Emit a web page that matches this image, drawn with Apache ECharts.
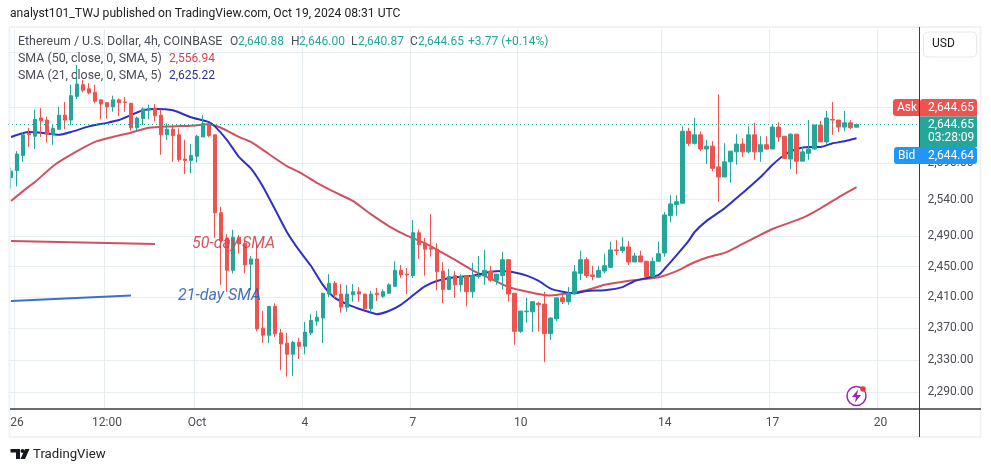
<!DOCTYPE html>
<html>
<head>
<meta charset="utf-8">
<title>ETH/USD 4h</title>
<script src="https://cdn.jsdelivr.net/npm/echarts@6/dist/echarts.min.js"></script>
<style>
  html, body { margin: 0; padding: 0; background: #fff; }
  #chart { width: 991px; height: 472px; }
</style>
</head>
<body>
<div id="chart"></div>
<script>
// 4h candles
const opens = [2570,2580,2601,2632,2628,2654,2651,2630,2638,2658,2651,2685,2702,2696,2691,2680,2676,2670,2680,2677,
  2675,2640,2653,2665,2668,2658,2630,2638,2630,2596,2594,2600,2627,2646,2630,2522,2488,2445,2489,2481,
  2453,2460,2370,2361,2398,2364,2351,2337,2352,2347,2364,2379,2383,2414,2428,2414,2397,2413,2417,2414,
  2395,2415,2411,2415,2424,2445,2440,2438,2495,2481,2475,2473,2444,2420,2438,2426,2438,2417,2437,2438,
  2444,2432,2438,2459,2415,2366,2391,2391,2402,2401,2363,2382,2409,2404,2415,2441,2459,2439,2436,2444,
  2449,2472,2471,2476,2456,2464,2457,2437,2457,2468,2518,2533,2535,2635,2618,2630,2610,2614,2585,2571,
  2592,2606,2617,2606,2630,2606,2616,2610,2641,2628,2596,2631,2593,2604,2610,2644,2620,2652,2651,2641,
  2647,2640.88];
const closes = [2579,2603,2630,2630,2652,2650,2631,2639,2658,2651,2686,2703,2694,2690,2678,2674,2670,2680,2676,2676,
  2640,2654,2667,2667,2657,2630,2638,2629,2595,2594,2601,2628,2646,2629,2522,2484,2445,2489,2480,2452,
  2460,2369,2361,2398,2363,2350,2337,2352,2347,2365,2380,2384,2415,2428,2413,2397,2414,2417,2414,2395,
  2414,2413,2417,2426,2445,2439,2439,2495,2479,2473,2473,2443,2420,2437,2426,2437,2417,2438,2438,2445,
  2432,2440,2459,2414,2366,2392,2392,2404,2400,2363,2383,2409,2404,2415,2443,2459,2438,2437,2445,2451,
  2472,2471,2476,2456,2464,2456,2437,2457,2467,2519,2534,2537,2635,2618,2630,2610,2614,2583,2571,2592,
  2607,2617,2606,2630,2606,2616,2610,2641,2627,2597,2631,2593,2606,2610,2644,2620,2654,2651,2641,2647,
  2640,2644.65];
const lows = [2555,2558,2592,2613,2610,2627,2619,2616,2637,2638,2644,2681,2691,2688,2675,2652,2653,2663,2657,2663,
  2636,2635,2644,2652,2649,2602,2623,2592,2592,2575,2576,2591,2627,2627,2488,2426,2417,2441,2467,2441,
  2419,2366,2351,2351,2359,2317,2309,2310,2331,2337,2361,2373,2351,2410,2408,2390,2391,2404,2404,2393,
  2390,2405,2409,2415,2424,2435,2414,2435,2460,2438,2463,2419,2402,2419,2409,2417,2398,2409,2434,2426,
  2430,2426,2420,2404,2349,2364,2377,2365,2366,2327,2355,2379,2401,2400,2413,2432,2435,2432,2436,2441,
  2448,2465,2468,2452,2456,2456,2436,2436,2456,2463,2509,2518,2534,2614,2616,2607,2589,2579,2537,2571,
  2563,2588,2599,2604,2595,2592,2609,2610,2620,2596,2582,2575,2593,2595,2609,2620,2616,2630,2634,2635,
  2638,2640.87];
const highs = [2584,2607,2634,2640,2666,2668,2656,2645,2670,2677,2702,2731,2709,2704,2702,2680,2676,2686,2682,2684,
  2676,2656,2669,2673,2674,2666,2646,2644,2639,2623,2617,2630,2658,2646,2630,2530,2493,2499,2492,2485,
  2464,2481,2392,2398,2402,2369,2364,2354,2358,2378,2388,2392,2415,2440,2431,2427,2426,2427,2423,2414,
  2418,2422,2420,2428,2457,2452,2448,2512,2499,2488,2520,2481,2456,2447,2444,2440,2438,2455,2464,2472,
  2451,2440,2469,2460,2415,2392,2409,2404,2404,2417,2384,2409,2415,2423,2452,2471,2462,2451,2451,2467,
  2483,2485,2489,2484,2468,2471,2457,2462,2483,2523,2546,2546,2642,2640,2654,2635,2623,2621,2688,2618,
  2607,2631,2625,2642,2647,2628,2628,2645,2648,2628,2632,2631,2613,2651,2644,2650,2664,2677,2651,2664,
  2651,2646.00];

// moving averages as [candle index, price]
const sma21Points = [[0,2627],[3,2634],[5,2633],[8,2630],[10,2634],[13,2642],[16,2647],[18,2651],[20,2658],[22,2665],
  [24,2667],[27,2665],[30,2655],[33,2648],[34,2642],[36,2623],[38,2599],[40,2583],[42,2558],[44,2527],
  [46,2496],[48,2472],[50,2451],[52,2426],[54,2409],[56,2401],[58,2395],[60,2390],[61,2388],[63,2392],
  [65,2400],[67,2412],[69,2424],[71,2431],[74,2436],[77,2438],[80,2443],[82,2444],[84,2442],[86,2438],
  [88,2431],[90,2421],[92,2417],[94,2415],[96,2418],[99,2419],[102,2423],[104,2431],[106,2435],[108,2439],
  [109,2447],[111,2465],[113,2484],[114,2496],[116,2511],[119,2528],[122,2549],[125,2571],[127,2588],[129,2602],
  [131,2610],[133,2613],[135,2613],[137,2618],[139,2621],[141,2625.22]];
const sma50Points = [[0,2538],[3,2558],[4,2564],[7,2586],[10,2602],[14,2620],[17,2627],[20,2633],[23,2640],[27,2642],
  [30,2643],[33,2645],[35,2640],[38,2627],[40,2620],[43,2603],[46,2586],[48,2578],[51,2563],[54,2550],
  [57,2538],[60,2520],[63,2504],[66,2491],[69,2481],[72,2468],[74,2459],[77,2445],[80,2434],[83,2423],
  [85,2419],[88,2414],[90,2412],[93,2415],[96,2419],[99,2426],[102,2430],[105,2433],[108,2436],[111,2444],
  [113,2452],[115,2459],[117,2464],[119,2468],[122,2480],[127,2500],[132,2515],[135,2528],[138,2543],[141,2556.94]];
// the two hand drawn legend strokes
const note50Points = [[0,2484],[24,2480]];
const note21Points = [[0,2405],[20,2412]];

const priceTicks = [2290, 2330, 2370, 2410, 2450, 2490, 2540, 2590, 2670, 2750];
const lastPrice = 2644.65;
const dateLabels = ['26', '12:00', 'Oct', '4', '7', '10', '14', '17', '20'];
const dateIndexes = [1, 16, 31, 49, 67, 85, 109, 127, 145];
const slotCount = 152;

const GREEN = '#26a69a';
const RED = '#ef5350';
const BLUE_LINE = '#3030c4';
const RED_LINE = '#d1505f';
const GRID = '#e6eef1';
const TEXT = '#4a4d55';
const FONT = 'Roboto, sans-serif';

const categories = [];
for (let i = 0; i < slotCount; i++) {
  const pos = dateIndexes.indexOf(i);
  categories.push(pos >= 0 ? dateLabels[pos] : 'c' + i);
}
const isDateSlot = index => dateIndexes.indexOf(index) >= 0;
const candles = opens.map((o, i) => [o, closes[i], lows[i], highs[i]]);

function txt(x, y, text, color, size, extra) {
  return {
    type: 'text', z: 100, x: x, y: y, silent: true,
    style: Object.assign({
      text: text, fill: color, font: (size || 12) + 'px ' + FONT, textVerticalAlign: 'middle'
    }, extra || {})
  };
}
function box(x, y, w, h, fill, r) {
  return { type: 'rect', z: 99, silent: true, shape: { x: x, y: y, width: w, height: h, r: r }, style: { fill: fill } };
}
function rule(x1, y1, x2, y2, color, width) {
  return { type: 'line', z: 98, silent: true, shape: { x1: x1, y1: y1, x2: x2, y2: y2 }, style: { stroke: color, lineWidth: width } };
}

const graphics = [
  // frame
  { type: 'rect', z: 97, silent: true, shape: { x: 9.5, y: 27, width: 971, height: 410 }, style: { fill: 'none', stroke: '#f0f3f6', lineWidth: 2 } },
  rule(919.5, 27, 919.5, 437, '#3a3d45', 1),
  rule(10, 409, 981, 409, '#3a3d45', 1.5),
  // header
  txt(10, 14, 'analyst101_TWJ published on TradingView.com, Oct 19, 2024 08:31 UTC', '#222', 12.15),
  txt(18, 41.5, 'Ethereum / U.S. Dollar, 4h, COINBASE', TEXT, 12.4),
  txt(230, 41.5, 'O', TEXT), txt(238, 41.5, '2,640.88', GREEN),
  txt(291, 41.5, 'H', TEXT), txt(299, 41.5, '2,646.00', GREEN),
  txt(351, 41.5, 'L', TEXT), txt(358, 41.5, '2,640.87', GREEN),
  txt(410, 41.5, 'C', TEXT), txt(418, 41.5, '2,644.65', GREEN),
  txt(468, 41.5, '+3.77 (+0.14%)', GREEN),
  txt(18, 59, 'SMA (50, close, 0, SMA, 5)', TEXT, 12.4), txt(169, 59, '2,556.94', '#d1434f'),
  txt(18, 76, 'SMA (21, close, 0, SMA, 5)', TEXT, 12.4), txt(169, 76, '2,625.22', '#2f2f9e'),
  // hand written notes
  txt(192, 243.5, '50-day SMA', 'rgba(209,67,79,0.9)', 16, { font: 'italic 16px ' + FONT }),
  txt(178, 295.5, '21-day SMA', 'rgba(48,96,190,0.9)', 16, { font: 'italic 16px ' + FONT }),
  // price axis badges
  { type: 'rect', z: 99, silent: true, shape: { x: 923.5, y: 32, width: 53, height: 25, r: 4 }, style: { fill: '#fff', stroke: '#e6e8ee', lineWidth: 1 } },
  txt(932, 43.5, 'USD', '#222'),
  box(893, 99, 26, 17, RED, [3, 0, 0, 3]),
  box(920, 99, 57, 17.5, RED, [3, 3, 0, 0]),
  box(920, 116.5, 57, 30.5, GREEN, 0),
  box(894, 147, 83, 17, '#2196f3', 3),
  txt(897, 107.5, 'Ask', '#fff'), txt(928, 107.5, '2,644.65', '#fff'),
  txt(928, 124.5, '2,644.65', '#fff'), txt(928, 137.5, '03:28:09', '#fff'),
  txt(898, 155.5, 'Bid', '#fff'), txt(928, 155.5, '2,644.64', '#fff'),
  // lightning badge
  { type: 'circle', z: 99, silent: true, shape: { cx: 856.5, cy: 396, r: 9.5 }, style: { fill: '#fff', stroke: '#9c27b0', lineWidth: 1.5 } },
  { type: 'polygon', z: 100, silent: true, shape: { points: [[858, 389.5], [852, 397], [856, 397], [855, 402.5], [861, 395], [857, 395]] }, style: { fill: '#9c27b0' } },
  { type: 'circle', z: 101, silent: true, shape: { cx: 863, cy: 389, r: 2.8 }, style: { fill: '#e53935' } },
  // TradingView mark
  { type: 'polygon', z: 100, silent: true, shape: { points: [[10.5, 449], [20, 449], [20, 459], [16, 459], [16, 452.5], [10.5, 452.5]] }, style: { fill: '#131722' } },
  { type: 'circle', z: 100, silent: true, shape: { cx: 22.5, cy: 451, r: 2 }, style: { fill: '#131722' } },
  { type: 'polygon', z: 100, silent: true, shape: { points: [[25, 449], [29.5, 449], [25, 459], [20.5, 459]] }, style: { fill: '#131722' } },
  txt(33, 454.5, 'TradingView', '#222', 13.2)
];

const option = {
  animation: false,
  textStyle: { fontFamily: FONT },
  grid: { left: 8, top: 29, width: 911.5, height: 380, containLabel: false },
  xAxis: {
    type: 'category',
    data: categories,
    boundaryGap: true,
    axisLine: { show: false },
    axisTick: { show: false, alignWithLabel: true, interval: isDateSlot },
    axisLabel: { interval: isDateSlot, color: TEXT, fontSize: 12, margin: 8, fontFamily: FONT, hideOverlap: false },
    splitLine: { show: true, interval: isDateSlot, lineStyle: { color: GRID, width: 1 } }
  },
  yAxis: {
    type: 'log',
    logBase: 10,
    position: 'right',
    min: 2269.1,
    max: 2784.2,
    axisLine: { show: false },
    axisTick: { show: false, customValues: priceTicks },
    axisLabel: {
      customValues: priceTicks,
      color: TEXT,
      fontSize: 12,
      margin: 8,
      fontFamily: FONT,
      formatter: v => Math.round(v).toLocaleString('en-US') + '.00'
    },
    splitLine: { show: true, lineStyle: { color: GRID, width: 1 } }
  },
  graphic: graphics,
  series: [
    { type: 'line', name: 'SMA 50', z: 2, data: sma50Points, smooth: 0.2, showSymbol: false, silent: true, lineStyle: { color: RED_LINE, width: 2 } },
    { type: 'line', name: 'SMA 21', z: 2, data: sma21Points, smooth: 0.2, showSymbol: false, silent: true, lineStyle: { color: BLUE_LINE, width: 2 } },
    { type: 'line', name: 'note 50', z: 2, data: note50Points, showSymbol: false, silent: true, lineStyle: { color: RED_LINE, width: 2 } },
    { type: 'line', name: 'note 21', z: 2, data: note21Points, showSymbol: false, silent: true, lineStyle: { color: '#3a6fd0', width: 2 } },
    {
      type: 'candlestick',
      name: 'ETHUSD',
      z: 3,
      data: candles,
      barWidth: 4,
      silent: true,
      itemStyle: { color: GREEN, color0: RED, borderColor: GREEN, borderColor0: RED, borderWidth: 1 },
      markLine: {
        silent: true,
        symbol: 'none',
        label: { show: false },
        lineStyle: { color: GREEN, type: [1, 3], width: 1 },
        data: [{ yAxis: lastPrice }]
      }
    }
  ]
};

const chart = echarts.init(document.getElementById('chart'));
chart.setOption(option);
</script>
</body>
</html>
